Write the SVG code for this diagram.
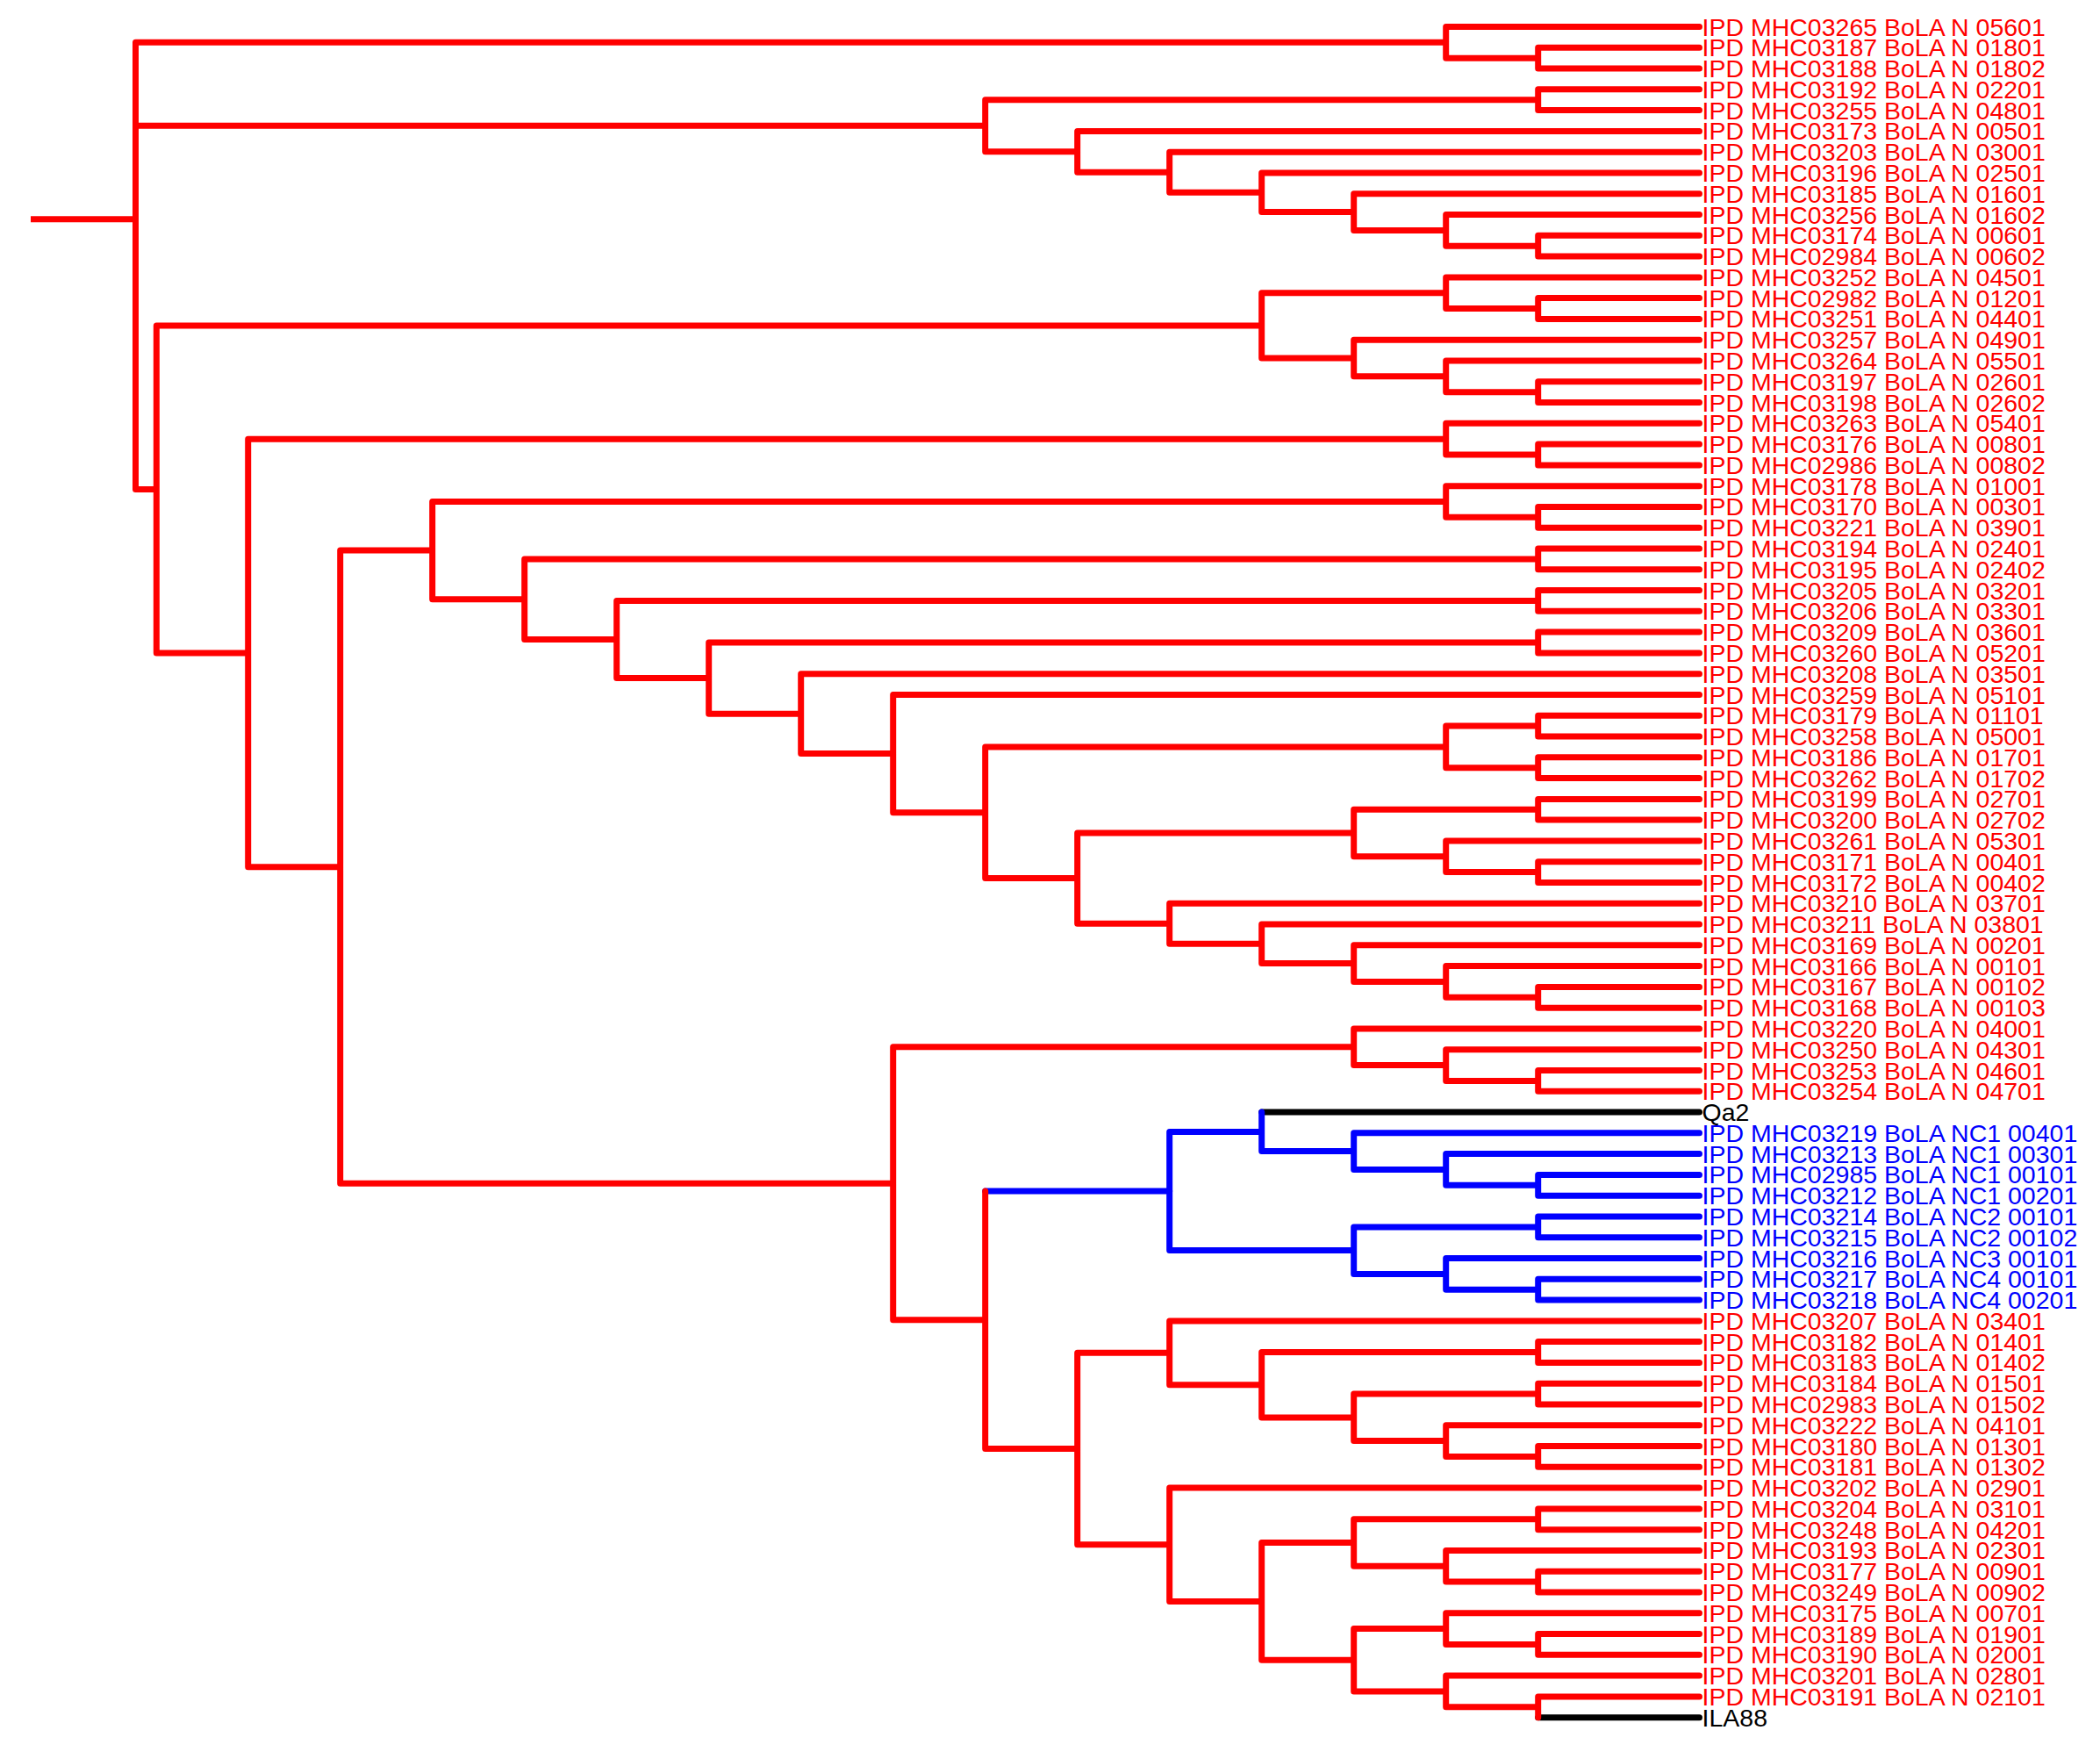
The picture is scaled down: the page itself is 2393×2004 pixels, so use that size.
<svg xmlns="http://www.w3.org/2000/svg" width="2393" height="2004" viewBox="0 0 2393 2004">
<style>
.e{fill:none;stroke-width:7;stroke-linecap:round;stroke-linejoin:round}
.r{stroke:#ff0000}.b{stroke:#0000ff}.k{stroke:#000000}
text{font-family:"Liberation Sans",Arial,sans-serif;font-size:28.5px}
.tr{fill:#ff0000}.tb{fill:#0000ff}.tk{fill:#000000}
</style>
<rect x="0" y="0" width="2393" height="2004" fill="#ffffff"/>
<g id="connectors">
<path class="e k" d="M1437.7,1267.1H1936.5"/>
<path class="e k" d="M1752.7,1956.7H1936.5"/>
<path class="e b" d="M1122.7,1357.0H1332.7"/>
<path class="e b" d="M1936.5,1338.4H1752.7V1362.2H1936.5 M1936.5,1314.6H1647.7V1350.3H1752.7 M1936.5,1290.8H1542.7V1332.5H1647.7 M1437.7,1267.1V1311.6H1542.7 M1936.5,1386.0H1752.7V1409.7H1936.5 M1936.5,1457.3H1752.7V1481.1H1936.5 M1936.5,1433.5H1647.7V1469.2H1752.7 M1752.7,1397.9H1542.7V1451.4H1647.7 M1437.7,1289.4H1332.7V1424.6H1542.7"/>
<path class="r" d="M35,249.7H154.5" stroke-width="7" fill="none"/>
<path class="e r" d="M1647.7,48.3H154.5V557.4H178.3 M154.5,143.3H1122.7
M1936.5,54.3H1752.7V78.1H1936.5
M1936.5,30.5H1647.7V66.2H1752.7
M1936.5,101.8H1752.7V125.6H1936.5
M1936.5,268.3H1752.7V292.1H1936.5
M1936.5,244.5H1647.7V280.2H1752.7
M1936.5,220.7H1542.7V262.4H1647.7
M1936.5,197.0H1437.7V241.5H1542.7
M1936.5,173.2H1332.7V219.3H1437.7
M1936.5,149.4H1227.7V196.2H1332.7
M1752.7,113.7H1122.7V172.8H1227.7
M1936.5,339.6H1752.7V363.4H1936.5
M1936.5,315.9H1647.7V351.5H1752.7
M1936.5,434.8H1752.7V458.5H1936.5
M1936.5,411.0H1647.7V446.7H1752.7
M1936.5,387.2H1542.7V428.8H1647.7
M1647.7,333.7H1437.7V408.0H1542.7
M1936.5,506.1H1752.7V529.9H1936.5
M1936.5,482.3H1647.7V518.0H1752.7
M1936.5,577.4H1752.7V601.2H1936.5
M1936.5,553.7H1647.7V589.3H1752.7
M1936.5,625.0H1752.7V648.8H1936.5
M1936.5,672.6H1752.7V696.3H1936.5
M1936.5,720.1H1752.7V743.9H1936.5
M1936.5,815.2H1752.7V839.0H1936.5
M1936.5,862.8H1752.7V886.6H1936.5
M1752.7,827.1H1647.7V874.7H1752.7
M1936.5,910.4H1752.7V934.1H1936.5
M1936.5,981.7H1752.7V1005.5H1936.5
M1936.5,957.9H1647.7V993.6H1752.7
M1752.7,922.3H1542.7V975.8H1647.7
M1936.5,1124.4H1752.7V1148.2H1936.5
M1936.5,1100.6H1647.7V1136.3H1752.7
M1936.5,1076.8H1542.7V1118.4H1647.7
M1936.5,1053.0H1437.7V1097.6H1542.7
M1936.5,1029.3H1332.7V1075.3H1437.7
M1542.7,949.0H1227.7V1052.3H1332.7
M1647.7,850.9H1122.7V1000.6H1227.7
M1936.5,791.5H1017.7V925.8H1122.7
M1936.5,767.7H912.7V858.6H1017.7
M1752.7,732.0H807.7V813.2H912.7
M1752.7,684.5H702.7V772.6H807.7
M1752.7,636.9H597.7V728.5H702.7
M1647.7,571.5H492.7V682.7H597.7
M1936.5,1219.5H1752.7V1243.3H1936.5
M1936.5,1195.7H1647.7V1231.4H1752.7
M1936.5,1171.9H1542.7V1213.6H1647.7
M1936.5,1528.6H1752.7V1552.4H1936.5
M1936.5,1576.2H1752.7V1600.0H1936.5
M1936.5,1647.5H1752.7V1671.3H1936.5
M1936.5,1623.8H1647.7V1659.4H1752.7
M1752.7,1588.1H1542.7V1641.6H1647.7
M1752.7,1540.5H1437.7V1614.9H1542.7
M1936.5,1504.9H1332.7V1577.7H1437.7
M1936.5,1718.9H1752.7V1742.7H1936.5
M1936.5,1790.2H1752.7V1814.0H1936.5
M1936.5,1766.4H1647.7V1802.1H1752.7
M1752.7,1730.8H1542.7V1784.3H1647.7
M1936.5,1861.6H1752.7V1885.3H1936.5
M1936.5,1837.8H1647.7V1873.5H1752.7
M1936.5,1932.9H1752.7V1956.7
M1936.5,1909.1H1647.7V1944.8H1752.7
M1647.7,1855.6H1542.7V1927.0H1647.7
M1542.7,1757.6H1437.7V1891.3H1542.7
M1936.5,1695.1H1332.7V1824.4H1437.7
M1332.7,1541.3H1227.7V1759.8H1332.7
M1122.7,1357.0V1650.5H1227.7
M1542.7,1192.7H1017.7V1503.7H1122.7
M492.7,627.1H387.7V1348.2H1017.7
M1647.7,500.2H282.7V987.7H387.7
M1437.7,370.9H178.3V743.9H282.7"/>
</g>
<g id="leaf1"><text class="tr" x="1939.5" y="40.5">IPD MHC03265 BoLA N 05601</text></g>
<g id="leaf2"><text class="tr" x="1939.5" y="64.3">IPD MHC03187 BoLA N 01801</text></g>
<g id="leaf3"><text class="tr" x="1939.5" y="88.1">IPD MHC03188 BoLA N 01802</text></g>
<g id="leaf4"><text class="tr" x="1939.5" y="111.8">IPD MHC03192 BoLA N 02201</text></g>
<g id="leaf5"><text class="tr" x="1939.5" y="135.6">IPD MHC03255 BoLA N 04801</text></g>
<g id="leaf6"><text class="tr" x="1939.5" y="159.4">IPD MHC03173 BoLA N 00501</text></g>
<g id="leaf7"><text class="tr" x="1939.5" y="183.2">IPD MHC03203 BoLA N 03001</text></g>
<g id="leaf8"><text class="tr" x="1939.5" y="207.0">IPD MHC03196 BoLA N 02501</text></g>
<g id="leaf9"><text class="tr" x="1939.5" y="230.7">IPD MHC03185 BoLA N 01601</text></g>
<g id="leaf10"><text class="tr" x="1939.5" y="254.5">IPD MHC03256 BoLA N 01602</text></g>
<g id="leaf11"><text class="tr" x="1939.5" y="278.3">IPD MHC03174 BoLA N 00601</text></g>
<g id="leaf12"><text class="tr" x="1939.5" y="302.1">IPD MHC02984 BoLA N 00602</text></g>
<g id="leaf13"><text class="tr" x="1939.5" y="325.9">IPD MHC03252 BoLA N 04501</text></g>
<g id="leaf14"><text class="tr" x="1939.5" y="349.6">IPD MHC02982 BoLA N 01201</text></g>
<g id="leaf15"><text class="tr" x="1939.5" y="373.4">IPD MHC03251 BoLA N 04401</text></g>
<g id="leaf16"><text class="tr" x="1939.5" y="397.2">IPD MHC03257 BoLA N 04901</text></g>
<g id="leaf17"><text class="tr" x="1939.5" y="421.0">IPD MHC03264 BoLA N 05501</text></g>
<g id="leaf18"><text class="tr" x="1939.5" y="444.8">IPD MHC03197 BoLA N 02601</text></g>
<g id="leaf19"><text class="tr" x="1939.5" y="468.5">IPD MHC03198 BoLA N 02602</text></g>
<g id="leaf20"><text class="tr" x="1939.5" y="492.3">IPD MHC03263 BoLA N 05401</text></g>
<g id="leaf21"><text class="tr" x="1939.5" y="516.1">IPD MHC03176 BoLA N 00801</text></g>
<g id="leaf22"><text class="tr" x="1939.5" y="539.9">IPD MHC02986 BoLA N 00802</text></g>
<g id="leaf23"><text class="tr" x="1939.5" y="563.7">IPD MHC03178 BoLA N 01001</text></g>
<g id="leaf24"><text class="tr" x="1939.5" y="587.4">IPD MHC03170 BoLA N 00301</text></g>
<g id="leaf25"><text class="tr" x="1939.5" y="611.2">IPD MHC03221 BoLA N 03901</text></g>
<g id="leaf26"><text class="tr" x="1939.5" y="635.0">IPD MHC03194 BoLA N 02401</text></g>
<g id="leaf27"><text class="tr" x="1939.5" y="658.8">IPD MHC03195 BoLA N 02402</text></g>
<g id="leaf28"><text class="tr" x="1939.5" y="682.6">IPD MHC03205 BoLA N 03201</text></g>
<g id="leaf29"><text class="tr" x="1939.5" y="706.3">IPD MHC03206 BoLA N 03301</text></g>
<g id="leaf30"><text class="tr" x="1939.5" y="730.1">IPD MHC03209 BoLA N 03601</text></g>
<g id="leaf31"><text class="tr" x="1939.5" y="753.9">IPD MHC03260 BoLA N 05201</text></g>
<g id="leaf32"><text class="tr" x="1939.5" y="777.7">IPD MHC03208 BoLA N 03501</text></g>
<g id="leaf33"><text class="tr" x="1939.5" y="801.5">IPD MHC03259 BoLA N 05101</text></g>
<g id="leaf34"><text class="tr" x="1939.5" y="825.2">IPD MHC03179 BoLA N 01101</text></g>
<g id="leaf35"><text class="tr" x="1939.5" y="849.0">IPD MHC03258 BoLA N 05001</text></g>
<g id="leaf36"><text class="tr" x="1939.5" y="872.8">IPD MHC03186 BoLA N 01701</text></g>
<g id="leaf37"><text class="tr" x="1939.5" y="896.6">IPD MHC03262 BoLA N 01702</text></g>
<g id="leaf38"><text class="tr" x="1939.5" y="920.4">IPD MHC03199 BoLA N 02701</text></g>
<g id="leaf39"><text class="tr" x="1939.5" y="944.1">IPD MHC03200 BoLA N 02702</text></g>
<g id="leaf40"><text class="tr" x="1939.5" y="967.9">IPD MHC03261 BoLA N 05301</text></g>
<g id="leaf41"><text class="tr" x="1939.5" y="991.7">IPD MHC03171 BoLA N 00401</text></g>
<g id="leaf42"><text class="tr" x="1939.5" y="1015.5">IPD MHC03172 BoLA N 00402</text></g>
<g id="leaf43"><text class="tr" x="1939.5" y="1039.3">IPD MHC03210 BoLA N 03701</text></g>
<g id="leaf44"><text class="tr" x="1939.5" y="1063.0">IPD MHC03211 BoLA N 03801</text></g>
<g id="leaf45"><text class="tr" x="1939.5" y="1086.8">IPD MHC03169 BoLA N 00201</text></g>
<g id="leaf46"><text class="tr" x="1939.5" y="1110.6">IPD MHC03166 BoLA N 00101</text></g>
<g id="leaf47"><text class="tr" x="1939.5" y="1134.4">IPD MHC03167 BoLA N 00102</text></g>
<g id="leaf48"><text class="tr" x="1939.5" y="1158.2">IPD MHC03168 BoLA N 00103</text></g>
<g id="leaf49"><text class="tr" x="1939.5" y="1181.9">IPD MHC03220 BoLA N 04001</text></g>
<g id="leaf50"><text class="tr" x="1939.5" y="1205.7">IPD MHC03250 BoLA N 04301</text></g>
<g id="leaf51"><text class="tr" x="1939.5" y="1229.5">IPD MHC03253 BoLA N 04601</text></g>
<g id="leaf52"><text class="tr" x="1939.5" y="1253.3">IPD MHC03254 BoLA N 04701</text></g>
<g id="leaf53"><text class="tk" x="1939.5" y="1277.1">Qa2</text></g>
<g id="leaf54"><text class="tb" x="1939.5" y="1300.8">IPD MHC03219 BoLA NC1 00401</text></g>
<g id="leaf55"><text class="tb" x="1939.5" y="1324.6">IPD MHC03213 BoLA NC1 00301</text></g>
<g id="leaf56"><text class="tb" x="1939.5" y="1348.4">IPD MHC02985 BoLA NC1 00101</text></g>
<g id="leaf57"><text class="tb" x="1939.5" y="1372.2">IPD MHC03212 BoLA NC1 00201</text></g>
<g id="leaf58"><text class="tb" x="1939.5" y="1396.0">IPD MHC03214 BoLA NC2 00101</text></g>
<g id="leaf59"><text class="tb" x="1939.5" y="1419.7">IPD MHC03215 BoLA NC2 00102</text></g>
<g id="leaf60"><text class="tb" x="1939.5" y="1443.5">IPD MHC03216 BoLA NC3 00101</text></g>
<g id="leaf61"><text class="tb" x="1939.5" y="1467.3">IPD MHC03217 BoLA NC4 00101</text></g>
<g id="leaf62"><text class="tb" x="1939.5" y="1491.1">IPD MHC03218 BoLA NC4 00201</text></g>
<g id="leaf63"><text class="tr" x="1939.5" y="1514.9">IPD MHC03207 BoLA N 03401</text></g>
<g id="leaf64"><text class="tr" x="1939.5" y="1538.6">IPD MHC03182 BoLA N 01401</text></g>
<g id="leaf65"><text class="tr" x="1939.5" y="1562.4">IPD MHC03183 BoLA N 01402</text></g>
<g id="leaf66"><text class="tr" x="1939.5" y="1586.2">IPD MHC03184 BoLA N 01501</text></g>
<g id="leaf67"><text class="tr" x="1939.5" y="1610.0">IPD MHC02983 BoLA N 01502</text></g>
<g id="leaf68"><text class="tr" x="1939.5" y="1633.8">IPD MHC03222 BoLA N 04101</text></g>
<g id="leaf69"><text class="tr" x="1939.5" y="1657.5">IPD MHC03180 BoLA N 01301</text></g>
<g id="leaf70"><text class="tr" x="1939.5" y="1681.3">IPD MHC03181 BoLA N 01302</text></g>
<g id="leaf71"><text class="tr" x="1939.5" y="1705.1">IPD MHC03202 BoLA N 02901</text></g>
<g id="leaf72"><text class="tr" x="1939.5" y="1728.9">IPD MHC03204 BoLA N 03101</text></g>
<g id="leaf73"><text class="tr" x="1939.5" y="1752.7">IPD MHC03248 BoLA N 04201</text></g>
<g id="leaf74"><text class="tr" x="1939.5" y="1776.4">IPD MHC03193 BoLA N 02301</text></g>
<g id="leaf75"><text class="tr" x="1939.5" y="1800.2">IPD MHC03177 BoLA N 00901</text></g>
<g id="leaf76"><text class="tr" x="1939.5" y="1824.0">IPD MHC03249 BoLA N 00902</text></g>
<g id="leaf77"><text class="tr" x="1939.5" y="1847.8">IPD MHC03175 BoLA N 00701</text></g>
<g id="leaf78"><text class="tr" x="1939.5" y="1871.6">IPD MHC03189 BoLA N 01901</text></g>
<g id="leaf79"><text class="tr" x="1939.5" y="1895.3">IPD MHC03190 BoLA N 02001</text></g>
<g id="leaf80"><text class="tr" x="1939.5" y="1919.1">IPD MHC03201 BoLA N 02801</text></g>
<g id="leaf81"><text class="tr" x="1939.5" y="1942.9">IPD MHC03191 BoLA N 02101</text></g>
<g id="leaf82"><text class="tk" x="1939.5" y="1966.7">ILA88</text></g>
</svg>
